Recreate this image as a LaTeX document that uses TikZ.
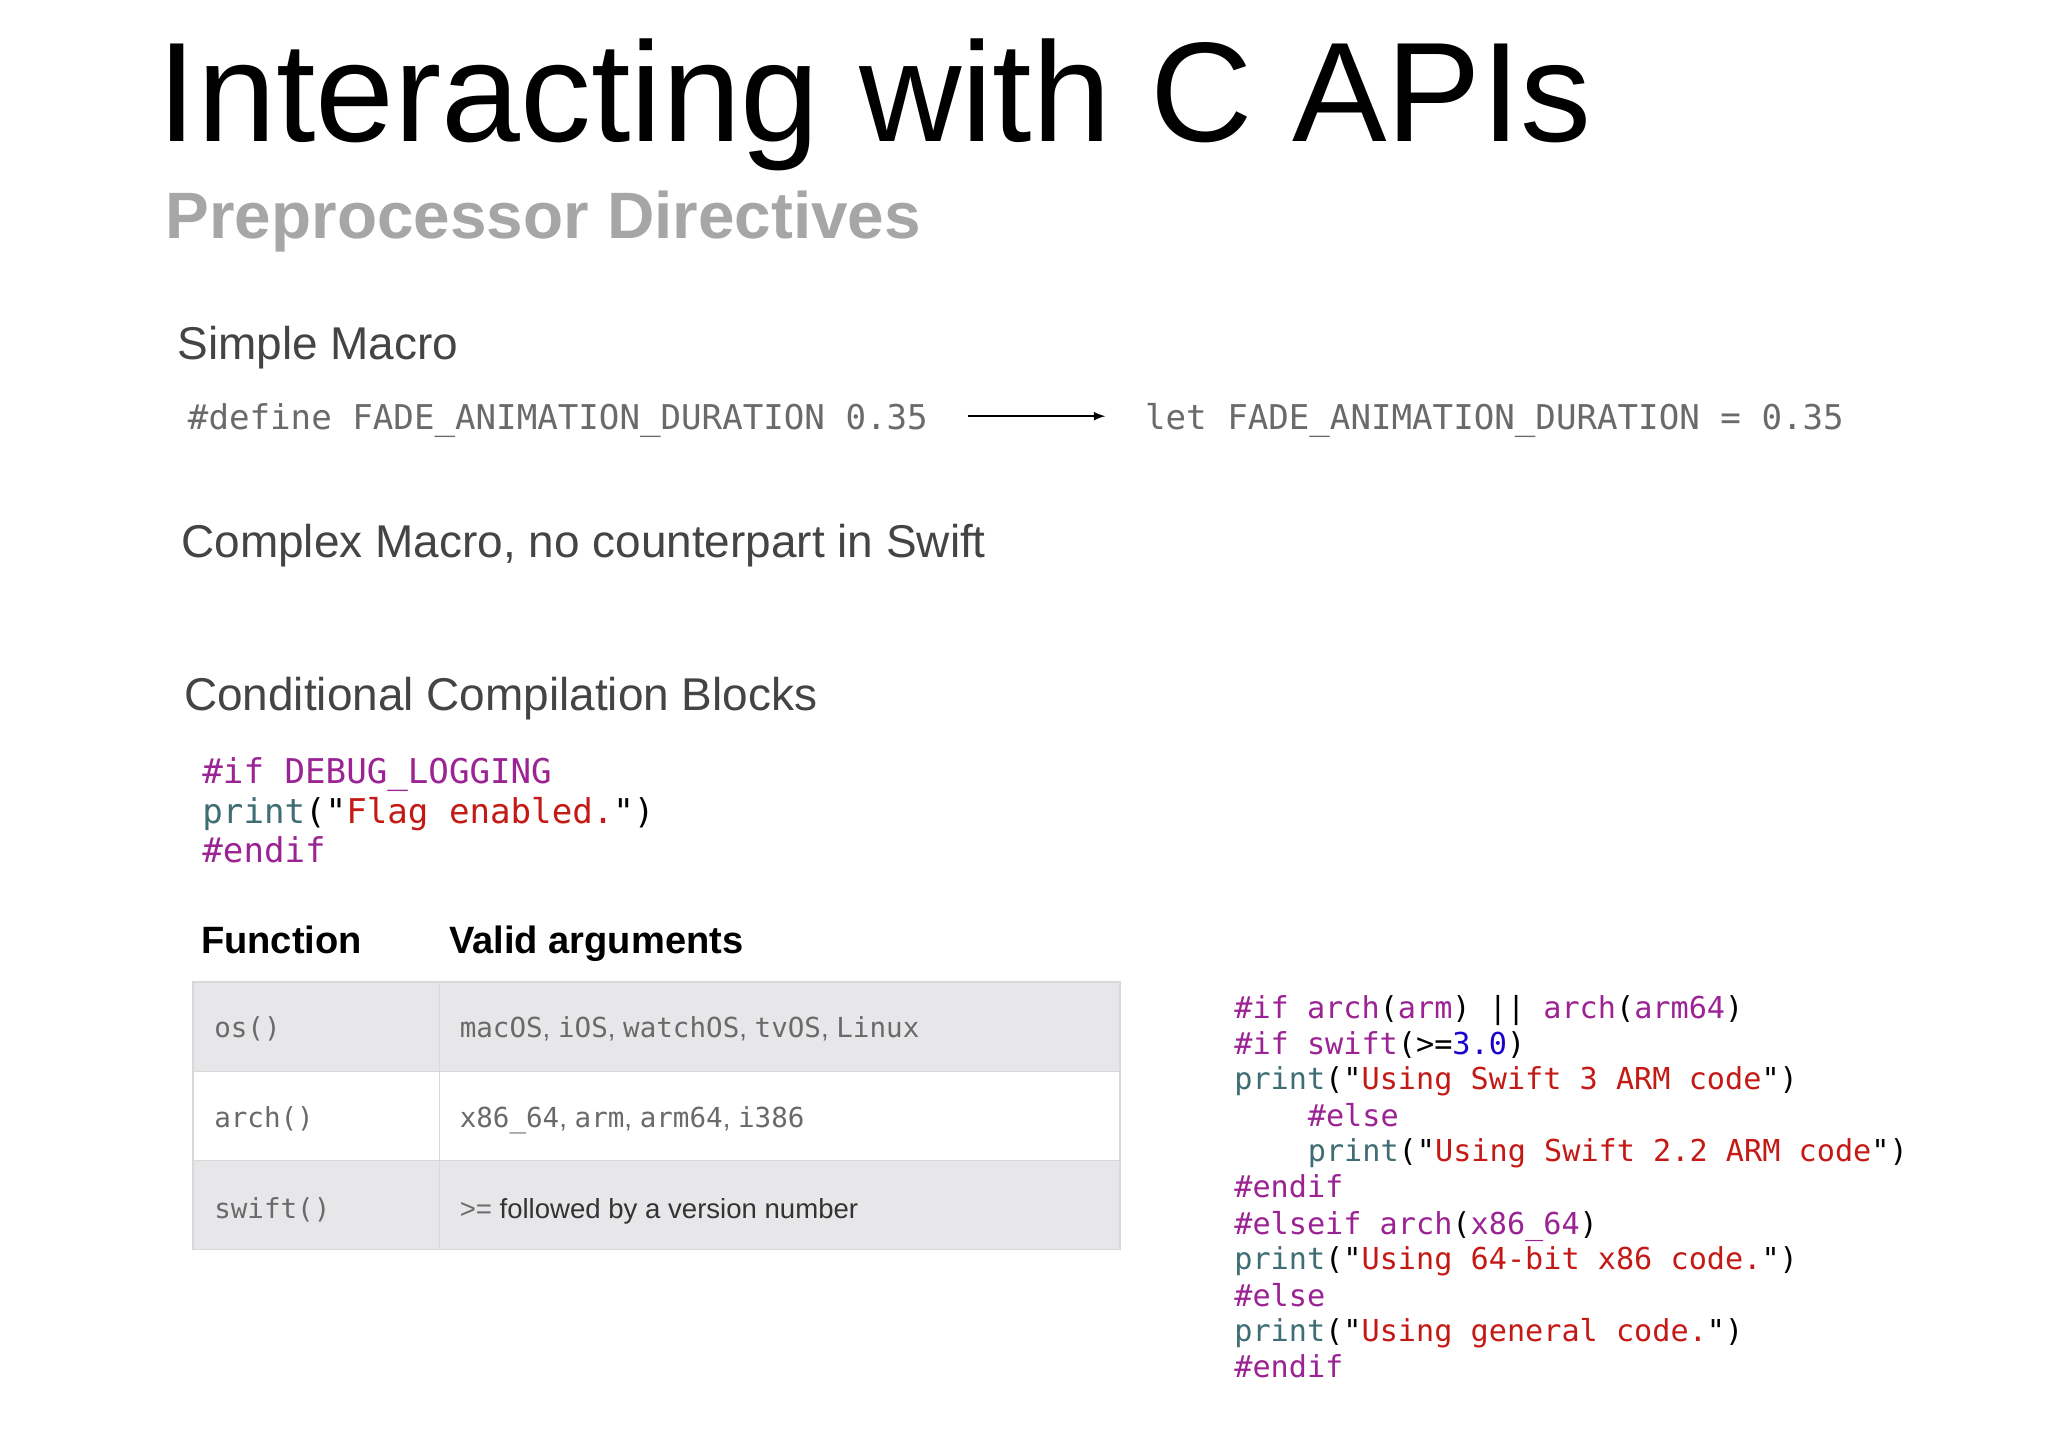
\documentclass[tikz,border=0pt]{standalone}
\usepackage{fontspec}
\setmainfont{Liberation Sans}
\setmonofont{DejaVu Sans Mono}
\definecolor{dirp}{HTML}{9B2393}
\definecolor{prt}{HTML}{3E6D74}
\definecolor{strr}{HTML}{C41A16}
\definecolor{numb}{HTML}{1C00CF}
\definecolor{graytxt}{HTML}{444444}
\definecolor{codegray}{HTML}{6A6A6A}
\definecolor{rowgray}{HTML}{E7E7E9}
\definecolor{lineg}{HTML}{D8D8D8}
\newcommand\kD[1]{\textcolor{dirp}{#1}}
\newcommand\kP[1]{\textcolor{prt}{#1}}
\newcommand\kS[1]{\textcolor{strr}{#1}}
\newcommand\kN[1]{\textcolor{numb}{#1}}
\begin{document}
\begin{tikzpicture}[x=1pt,y=-1pt,
  lbl/.style={anchor=base west,inner sep=0pt,text=graytxt,font=\fontsize{35}{40}\selectfont},
  code/.style={anchor=base west,inner sep=0pt,text=codegray,font=\ttfamily\fontsize{26}{30}\selectfont},
  cb/.style={anchor=base west,inner sep=0pt,font=\ttfamily\fontsize{26}{30}\selectfont},
  rc/.style={anchor=base west,inner sep=0pt,font=\ttfamily\fontsize{23}{27}\selectfont},
  cell/.style={anchor=base west,inner sep=0pt,text=codegray,font=\fontsize{21}{25}\selectfont},
  hd/.style={anchor=base west,inner sep=0pt,font=\bfseries\fontsize{29}{33}\selectfont}]
\useasboundingbox[fill=white] (0,0) rectangle (1560,1103);
\node[anchor=base west,inner sep=0pt,font=\fontsize{108}{120}\selectfont] (title) at (120,108) {Interacting with C APIs};
\node[anchor=base west,inner sep=0pt,text=black!35,font=\bfseries\fontsize{50}{56}\selectfont] (sub) at (126,182) {Preprocessor Directives};
\node[lbl] (sm) at (135,274) {Simple Macro};
\node[code] (def) at (143,327) {\#define FADE\_ANIMATION\_DURATION 0.35};
\node[code] (let) at (872,327) {let FADE\_ANIMATION\_DURATION = 0.35};
\coordinate (a1) at (737,317); \coordinate (a2) at (842,317);
\draw[line width=2pt,-latex] (a1) -- (a2);
\node[lbl] (cm) at (138,425) {Complex Macro, no counterpart in Swift};
\node[lbl] (cc) at (140,541) {Conditional Compilation Blocks};
\node[cb] (c1) at (154,597) {\kD{\#if DEBUG\_LOGGING}};
\node[cb] (c2) at (154,627) {\kP{print}("\kS{Flag enabled.}")};
\node[cb] (c3) at (154,657) {\kD{\#endif}};
% table
\node[hd] (h1) at (153,726) {Function};
\node[hd] (h2) at (342,726) {Valid arguments};
\fill[rowgray] (147,748) rectangle (853,816);
\fill[rowgray] (147,884) rectangle (853,952);
\draw[lineg,line width=1pt] (147,748) rectangle (853,952);
\draw[lineg,line width=1pt] (147,816) -- (853,816) (147,884) -- (853,884) (335,748) -- (335,952);
\node[cell] (r1a) at (163,790) {\ttfamily os()};
\node[cell] (r1b) at (350,790) {\ttfamily macOS\rmfamily, \ttfamily iOS\rmfamily, \ttfamily watchOS\rmfamily, \ttfamily tvOS\rmfamily, \ttfamily Linux};
\node[cell] (r2a) at (163,859) {\ttfamily arch()};
\node[cell] (r2b) at (350,859) {\ttfamily x86\_64\rmfamily, \ttfamily arm\rmfamily, \ttfamily arm64\rmfamily, \ttfamily i386};
\node[cell] (r3a) at (163,928) {\ttfamily swift()};
\node[cell,text=black!80] (r3b) at (350,928) {{\color{codegray}>=} followed by a version number};
% right code
\node[rc] (d1) at (940,776) {\kD{\#if arch}(\kD{arm}) || \kD{arch}(\kD{arm64})};
\node[rc] (d2) at (940,803) {\kD{\#if swift}(>=\kN{3.0})};
\node[rc] (d3) at (940,830) {\kP{print}("\kS{Using Swift 3 ARM code}")};
\node[rc] (d4) at (996,858) {\kD{\#else}};
\node[rc] (d5) at (996,885) {\kP{print}("\kS{Using Swift 2.2 ARM code}")};
\node[rc] (d6) at (940,912) {\kD{\#endif}};
\node[rc] (d7) at (940,940) {\kD{\#elseif arch}(\kD{x86\_64})};
\node[rc] (d8) at (940,967) {\kP{print}("\kS{Using 64-bit x86 code.}")};
\node[rc] (d9) at (940,995) {\kD{\#else}};
\node[rc] (d10) at (940,1022) {\kP{print}("\kS{Using general code.}")};
\node[rc] (d11) at (940,1049) {\kD{\#endif}};
\end{tikzpicture}
\end{document}
